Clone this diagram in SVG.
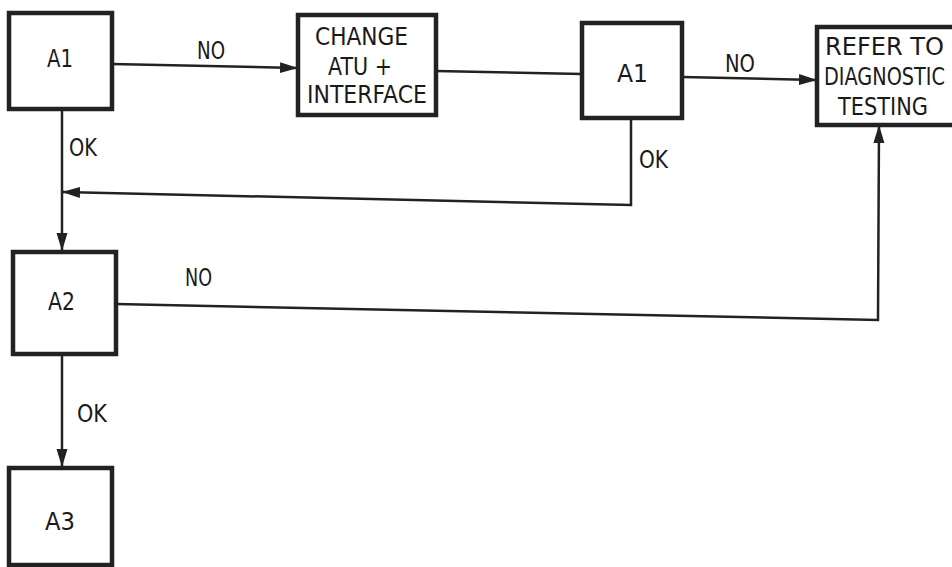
<svg xmlns="http://www.w3.org/2000/svg" width="952" height="567" viewBox="0 0 952 567">
<style>
.box{fill:#fff;stroke:#222;stroke-width:4.5}
.ln{fill:none;stroke:#222;stroke-width:2.5}
text{font-family:"DejaVu Sans","Liberation Sans",sans-serif;font-size:25px;fill:#1a1a1a}
</style>
<defs>
<marker id="ah" markerUnits="userSpaceOnUse" markerWidth="18" markerHeight="12" refX="17" refY="5.5" orient="auto" viewBox="0 0 18 11">
<path d="M0,0 L18,5.5 L0,11 z" fill="#222"/>
</marker>
</defs>
<rect width="952" height="567" fill="#fff"/>
<g id="connectors">
<path class="ln" d="M112,64 L297,68" marker-end="url(#ah)"/>
<path class="ln" d="M436,71 L582,74"/>
<path class="ln" d="M682,77 L816,80" marker-end="url(#ah)"/>
<path class="ln" d="M62,109 L62,250" marker-end="url(#ah)"/>
<path class="ln" d="M631,118 L631,205 L63,192" marker-end="url(#ah)"/>
<path class="ln" d="M116,304 L878,320 L879,126" marker-end="url(#ah)"/>
<path class="ln" d="M62,354 L62,466" marker-end="url(#ah)"/>
<text x="197" y="59" textLength="28" lengthAdjust="spacingAndGlyphs">NO</text>
<text x="725" y="72" textLength="30" lengthAdjust="spacingAndGlyphs">NO</text>
<text x="69" y="156" textLength="28" lengthAdjust="spacingAndGlyphs">OK</text>
<text x="639" y="168" textLength="29" lengthAdjust="spacingAndGlyphs">OK</text>
<text x="185" y="286" textLength="27" lengthAdjust="spacingAndGlyphs">NO</text>
<text x="77" y="422" textLength="30" lengthAdjust="spacingAndGlyphs">OK</text>
</g>
<g id="a1">
<rect class="box" x="9" y="13" width="103" height="96"/>
<text x="47" y="67" textLength="26" lengthAdjust="spacingAndGlyphs">A1</text>
</g>
<g id="change">
<rect class="box" x="298" y="15" width="138" height="100"/>
<text x="315" y="45" textLength="93" lengthAdjust="spacingAndGlyphs">CHANGE</text>
<text x="328" y="75" textLength="64" lengthAdjust="spacingAndGlyphs">ATU +</text>
<text x="307" y="103" textLength="120" lengthAdjust="spacingAndGlyphs">INTERFACE</text>
</g>
<g id="a1b">
<rect class="box" x="582" y="23" width="100" height="95"/>
<text x="617" y="82" textLength="31" lengthAdjust="spacingAndGlyphs">A1</text>
</g>
<g id="refer">
<rect class="box" x="817" y="27" width="150" height="98"/>
<text x="825" y="55" textLength="119" lengthAdjust="spacingAndGlyphs">REFER TO</text>
<text x="824" y="85" textLength="121" lengthAdjust="spacingAndGlyphs">DIAGNOSTIC</text>
<text x="838" y="115" textLength="90" lengthAdjust="spacingAndGlyphs">TESTING</text>
</g>
<g id="a2">
<rect class="box" x="13" y="252" width="103" height="102"/>
<text x="48" y="310" textLength="27" lengthAdjust="spacingAndGlyphs">A2</text>
</g>
<g id="a3">
<rect class="box" x="9" y="468" width="103" height="97"/>
<text x="45" y="530" textLength="30" lengthAdjust="spacingAndGlyphs">A3</text>
</g>
</svg>
